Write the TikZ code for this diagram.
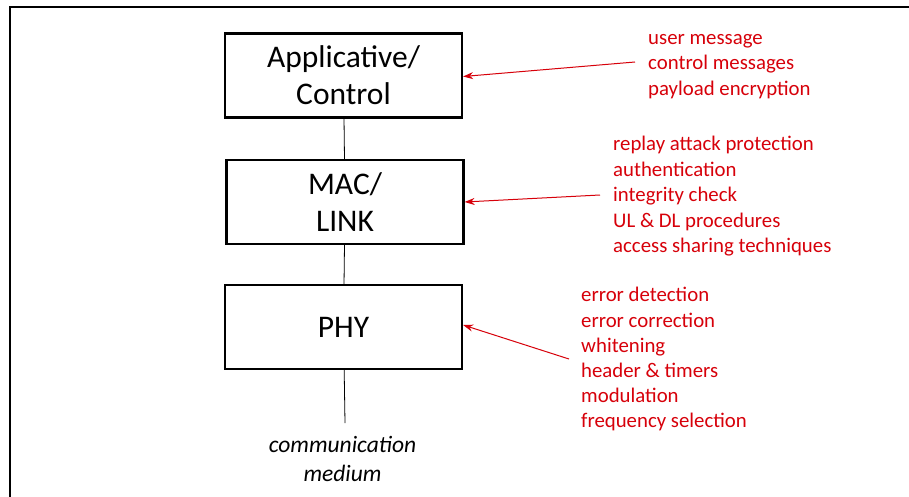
\documentclass[tikz,border=0pt]{standalone}
\usepackage{fontspec}
\setmainfont{Carlito}
\usetikzlibrary{arrows.meta}
\definecolor{redtxt}{RGB}{215,0,10}
\tikzset{
  layer/.style={draw, line width=2.2pt, minimum width=237pt, minimum height=84pt, inner sep=0pt, align=center, font=\fontsize{31.5}{37}\selectfont},
  link/.style={line width=0.8pt},
  redarrow/.style={draw=redtxt, line width=1pt, -{Stealth[length=10pt,width=7pt]}},
  item/.style={anchor=base west, inner sep=0pt, text=redtxt, font=\fontsize{20.8}{25}\selectfont}
}
\begin{document}
\begin{tikzpicture}[x=1pt,y=-1pt]
\useasboundingbox (0,0) rectangle (909,497);
\fill[white] (0,0) rectangle (909,497);
\draw[line width=1.5pt] (10,497) -- (10,7) -- (912,7);

\node[layer] (appl) at (343.5,75.5) {Applicative/\\Control};
\node[layer] (mac) at (345,202) {MAC/\\LINK};
\node[layer] (phy) at (343.5,327) {PHY};
\coordinate (medtop) at (345,423);
\node[font=\fontsize{23.5}{29}\selectfont\itshape, align=center, anchor=north, inner sep=0pt] (medium) at (342.5,436) {communication\\medium};

\draw[link] (appl) -- (mac);
\draw[link] (mac) -- (phy);
\draw[link] (phy) -- (medtop);

% application group
\node[item] (u1) at (648,44.5) {user message};
\node[item] (u2) at (648,70) {control messages};
\node[item] (u3) at (648,95.5) {payload encryption};
\coordinate (a1) at (635,62);
\draw[redarrow] (a1) -- ([yshift=-1pt]appl.east);

% MAC group
\node[item] (m1) at (613,150.5) {replay attack protection};
\node[item] (m2) at (613,176) {authentication};
\node[item] (m3) at (613,201.5) {integrity check};
\node[item] (m4) at (613,227) {UL \& DL procedures};
\node[item] (m5) at (613,252.5) {access sharing techniques};
\coordinate (a2) at (600,195);
\draw[redarrow] (a2) -- (mac.east);

% PHY group
\node[item] (p1) at (581,301.5) {error detection};
\node[item] (p2) at (581,327.5) {error correction};
\node[item] (p3) at (581,352.7) {whitening};
\node[item] (p4) at (581,377.7) {header \& timers};
\node[item] (p5) at (581,402.7) {modulation};
\node[item] (p6) at (581,427.7) {frequency selection};
\coordinate (a3) at (569,359);
\draw[redarrow] (a3) -- ([yshift=2pt]phy.east);
\end{tikzpicture}
\end{document}
